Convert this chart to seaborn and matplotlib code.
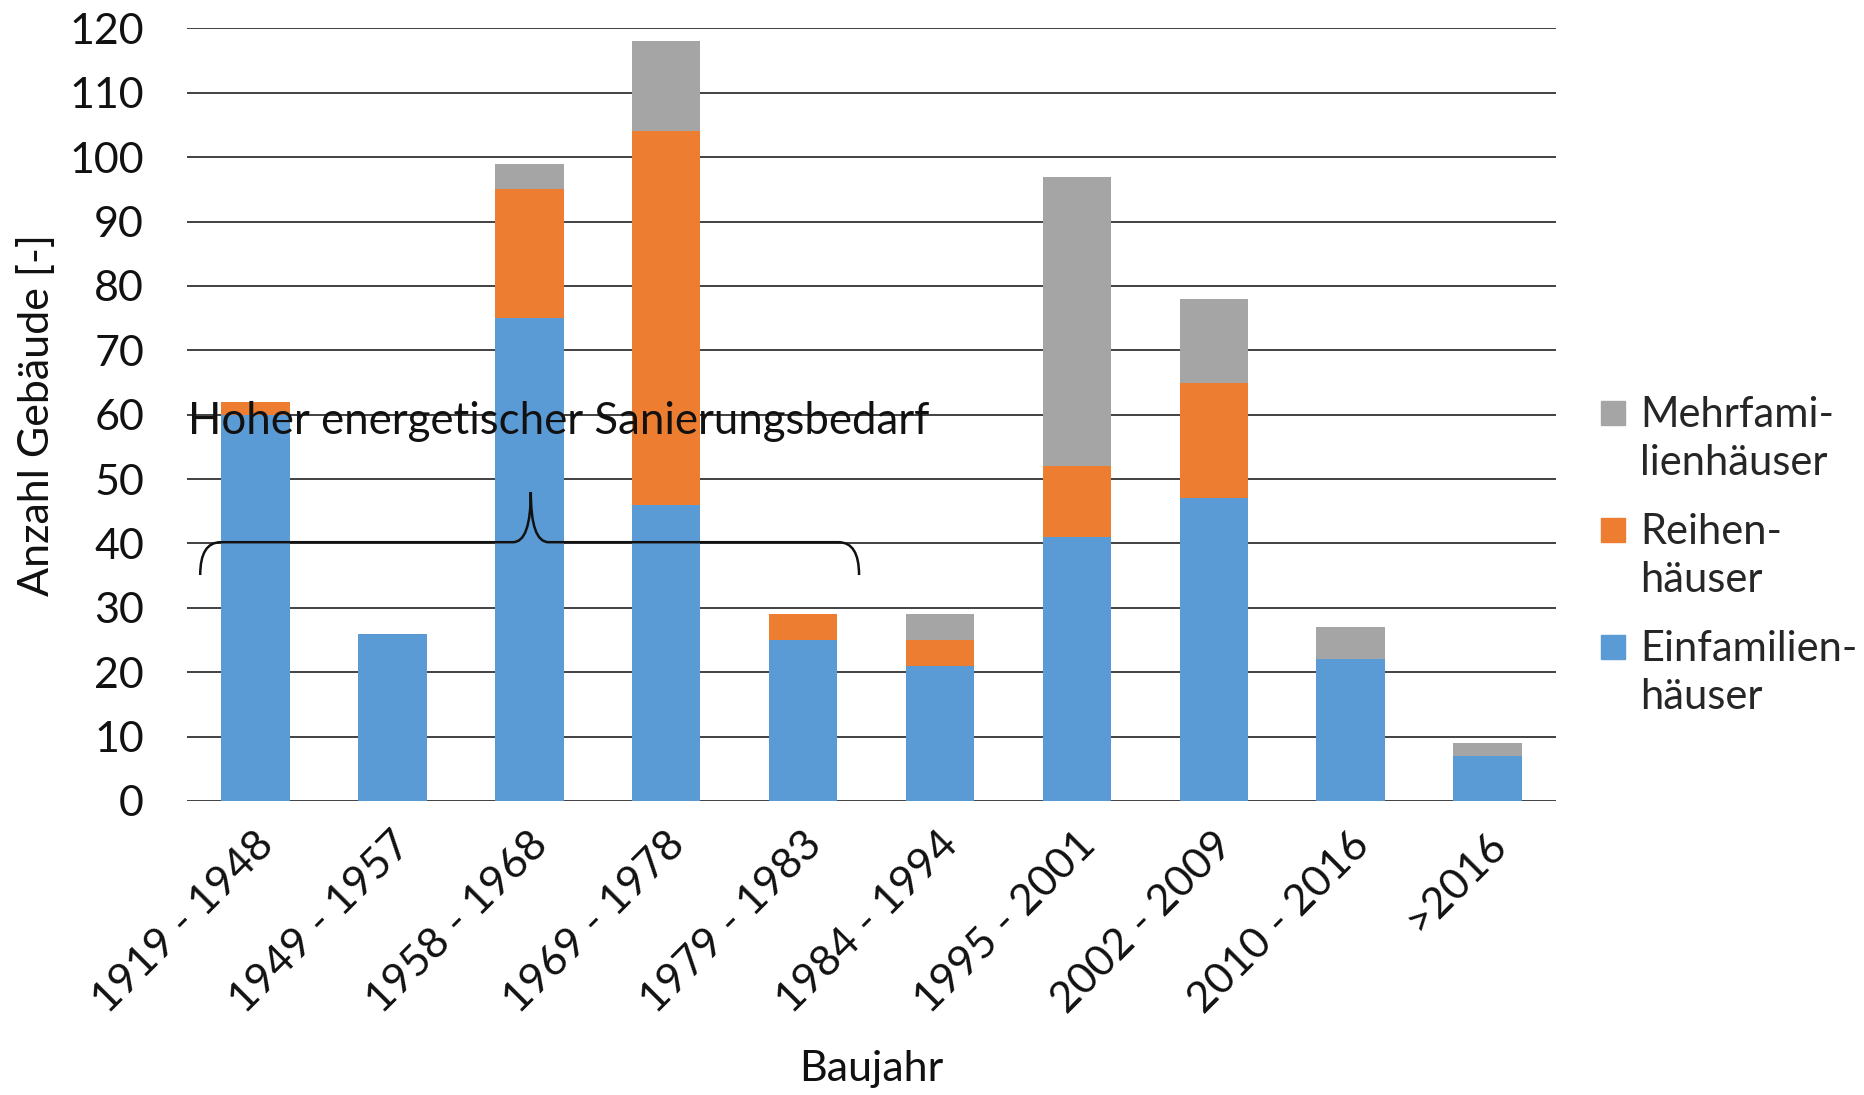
import numpy as np
import pandas as pd
import seaborn as sns
import matplotlib.pyplot as plt
import matplotlib.patches as mpatches
import matplotlib.transforms as mtransforms
from matplotlib.path import Path
from matplotlib.legend_handler import HandlerPatch

# Daten
baujahr = ["1919 - 1948", "1949 - 1957", "1958 - 1968", "1969 - 1978", "1979 - 1983",
           "1984 - 1994", "1995 - 2001", "2002 - 2009", "2010 - 2016", ">2016"]
einfamilien = [60, 26, 75, 46, 25, 21, 41, 47, 22, 7]
reihen = [2, 0, 20, 58, 4, 4, 11, 18, 0, 0]
mehrfamilien = [0, 0, 4, 14, 0, 4, 45, 13, 5, 2]

namen = ["Mehrfami-\nlienhäuser", "Reihen-\nhäuser", "Einfamilien-\nhäuser"]
farben = ["#A5A5A5", "#ED7D31", "#5B9BD5"]

df = pd.DataFrame({"Baujahr": baujahr, "EFH": einfamilien, "RH": reihen, "MFH": mehrfamilien})
df["s1"] = df["EFH"]
df["s2"] = df["EFH"] + df["RH"]
df["s3"] = df["s2"] + df["MFH"]

sns.set_theme(style="white")
plt.rcParams["font.family"] = ["Lato", "DejaVu Sans"]
fs = 31

fig = plt.figure(figsize=(18.65, 10.95), dpi=100)
ax = fig.add_axes([0.1003, 0.2685, 0.734, 0.7055])

# gestapelt: Summen von oben nach unten uebereinander zeichnen
for col, c in zip(["s3", "s2", "s1"], farben):
    sns.barplot(data=df, x="Baujahr", y=col, order=baujahr, color=c, width=0.5,
                linewidth=0, saturation=1, ax=ax, zorder=2)

ax.set_ylim(0, 120)
ax.set_xlim(-0.5, len(baujahr) - 0.5)
ax.set_yticks(np.arange(0, 121, 10))
ax.yaxis.grid(True, color="#333333", linewidth=1.3)
ax.set_axisbelow(True)
for s in ax.spines.values():
    s.set_visible(False)
ax.tick_params(axis="y", length=0, pad=31, labelsize=fs, colors="#111111")
ax.tick_params(axis="x", length=0, pad=27, labelsize=fs, colors="#111111")
shift = mtransforms.ScaledTranslation(0.12, 0, fig.dpi_scale_trans)
for lab in ax.get_xticklabels():
    lab.set_rotation(45)
    lab.set_ha("right")
    lab.set_va("center")
    lab.set_rotation_mode("anchor")
    lab.set_transform(lab.get_transform() + shift)

ax.set_ylabel("Anzahl Gebäude [-]", fontsize=fs, color="#111111")
ax.yaxis.set_label_coords(-0.096, 0.5)
ax.set_xlabel("Baujahr", fontsize=fs, color="#111111")
ax.xaxis.set_label_coords(0.5, -0.322)

# geschweifte Klammer
x0, x1, xm, y, drop, tip, r, r2 = -0.404, 4.409, 2.011, 40.2, 5.1, 7.8, 0.15, 0.13
verts = [(x0, y - drop), (x0, y), (x0 + r, y),
         (xm - r2, y),
         (xm, y), (xm, y + tip),
         (xm, y), (xm + r2, y),
         (x1 - r, y),
         (x1, y), (x1, y - drop)]
codes = [Path.MOVETO, Path.CURVE3, Path.CURVE3,
         Path.LINETO,
         Path.CURVE3, Path.CURVE3,
         Path.CURVE3, Path.CURVE3,
         Path.LINETO,
         Path.CURVE3, Path.CURVE3]
ax.add_patch(mpatches.PathPatch(Path(verts, codes), fill=False, lw=1.8, color="#111111", zorder=5))
ax.text(-0.49, 58.9, "Hoher energetischer Sanierungsbedarf", fontsize=31.5, va="center",
        ha="left", color="#111111", zorder=6)


def oben_quadrat(legend, orig_handle, xdescent, ydescent, width, height, fontsize):
    s = 0.57 * fontsize
    return mpatches.Rectangle((-xdescent, 0.72 * fontsize), s, s)


lfs = 30
handles = [mpatches.Patch(color=c, label=n) for c, n in zip(farben, namen)]
leg = fig.legend(handles=handles, loc="center left", bbox_to_anchor=(0.8475, 0.492),
                 frameon=False, fontsize=lfs, handlelength=0.57, handleheight=2.0,
                 handletextpad=0.35, labelspacing=0.75, borderpad=0,
                 handler_map={mpatches.Patch: HandlerPatch(patch_func=oben_quadrat)})
for t in leg.get_texts():
    t.set_linespacing(1.32)

fig.savefig("out.png", dpi=100)
